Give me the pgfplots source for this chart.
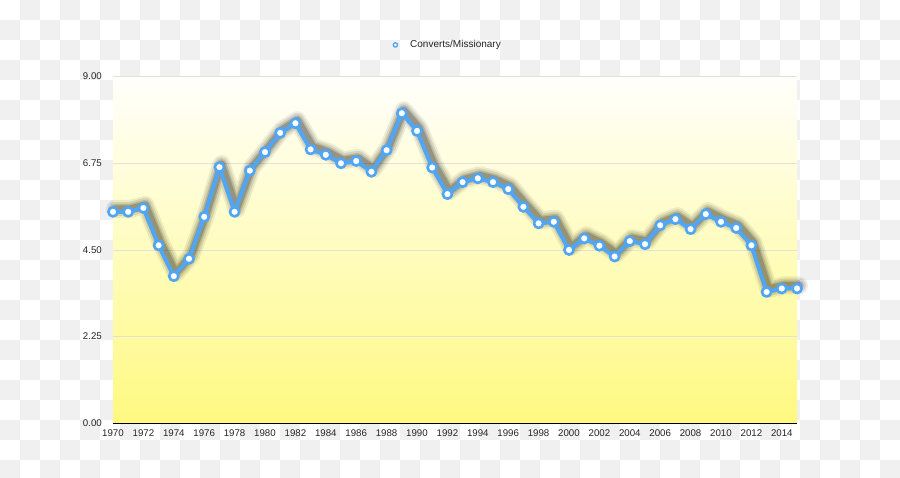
\documentclass[border=0pt]{standalone}
\usepackage{pgfplots}
\pgfplotsset{compat=1.18}
\usepackage{fontspec}
\setmainfont{Liberation Sans}
\definecolor{chk}{RGB}{240,240,240}
\definecolor{lineblue}{RGB}{80,165,245}
\definecolor{yel}{RGB}{255,249,128}
\definecolor{topc}{RGB}{255,255,252}
\definecolor{gridc}{RGB}{226,226,214}
\pgfplotstableread{
year val
1970 5.49
1971 5.49
1972 5.59
1973 4.62
1974 3.82
1975 4.27
1976 5.36
1977 6.65
1978 5.49
1979 6.56
1980 7.04
1981 7.54
1982 7.79
1983 7.11
1984 6.97
1985 6.75
1986 6.81
1987 6.53
1988 7.09
1989 8.05
1990 7.59
1991 6.64
1992 5.95
1993 6.26
1994 6.36
1995 6.26
1996 6.08
1997 5.62
1998 5.19
1999 5.23
2000 4.50
2001 4.80
2002 4.61
2003 4.33
2004 4.73
2005 4.65
2006 5.14
2007 5.30
2008 5.04
2009 5.43
2010 5.23
2011 5.07
2012 4.62
2013 3.41
2014 3.50
2015 3.50
}\datatable
\begin{document}
\begin{tikzpicture}[x=1pt,y=1pt]
\useasboundingbox (0,0) rectangle (900,477);
\fill[white] (0,0) rectangle (900,477);
\foreach \i in {0,...,44}{\foreach \j in {0,...,23}{%
  \pgfmathtruncatemacro\p{mod(\i+\j,2)}%
  \ifnum\p=1 \fill[chk] (20*\i,477-20*\j) rectangle ++(20,-20);\fi}}
\begin{axis}[
  at={(113pt,53.7pt)}, anchor=south west,
  scale only axis, width=684pt, height=346.7pt,
  xmin=1970, xmax=2015, ymin=0, ymax=9,
  clip=false,
  axis background/.style={shade, top color=topc, bottom color=yel},
  axis x line*=bottom, axis y line*=left,
  y axis line style={draw=none},
  x axis line style={black, line width=1.3pt},
  xtick={1970,1972,...,2014},
  ytick={0,2.25,4.5,6.75,9},
  major tick length=0pt,
  ymajorgrids, grid style={gridc, line width=0.8pt},
  tick label style={font=\fontsize{9.7}{11}\selectfont, text=black!85},
  /pgf/number format/assume math mode=true,
  xticklabel style={/pgf/number format/1000 sep={}, anchor=north, inner sep=0pt, yshift=-6pt},
  yticklabel style={/pgf/number format/fixed, /pgf/number format/fixed zerofill, /pgf/number format/precision=2, anchor=east, inner sep=0pt, xshift=-11pt},
  legend style={at={(0.4085,1.0914)}, anchor=west, draw=none, fill=none, inner sep=0pt, column sep=10pt, font=\fontsize{10}{12}\selectfont, text=black!85},
  legend image code/.code={\draw[lineblue, fill=white, line width=1.4pt] (0pt,0pt) circle (2.1pt);},
]
\addplot[forget plot, no marks, black, opacity=0.07, line width=18pt, line join=round, line cap=round, xshift=2pt, yshift=3pt] table[x=year,y=val]{\datatable};
\addplot[forget plot, no marks, black, opacity=0.10, line width=14pt, line join=round, line cap=round, xshift=2pt, yshift=3pt] table[x=year,y=val]{\datatable};
\addplot[forget plot, no marks, black, opacity=0.14, line width=10pt, line join=round, line cap=round, xshift=2pt, yshift=3pt] table[x=year,y=val]{\datatable};
\addplot[forget plot, no marks, black, opacity=0.18, line width=7pt, line join=round, line cap=round, xshift=2pt, yshift=3pt] table[x=year,y=val]{\datatable};
\addplot[lineblue, line width=4pt, line join=round, mark=*, mark size=4.6pt, mark options={fill=white, draw=lineblue, line width=2.6pt}] table[x=year,y=val]{\datatable};
\addlegendentry{Converts/Missionary}
\end{axis}
\end{tikzpicture}
\end{document}
